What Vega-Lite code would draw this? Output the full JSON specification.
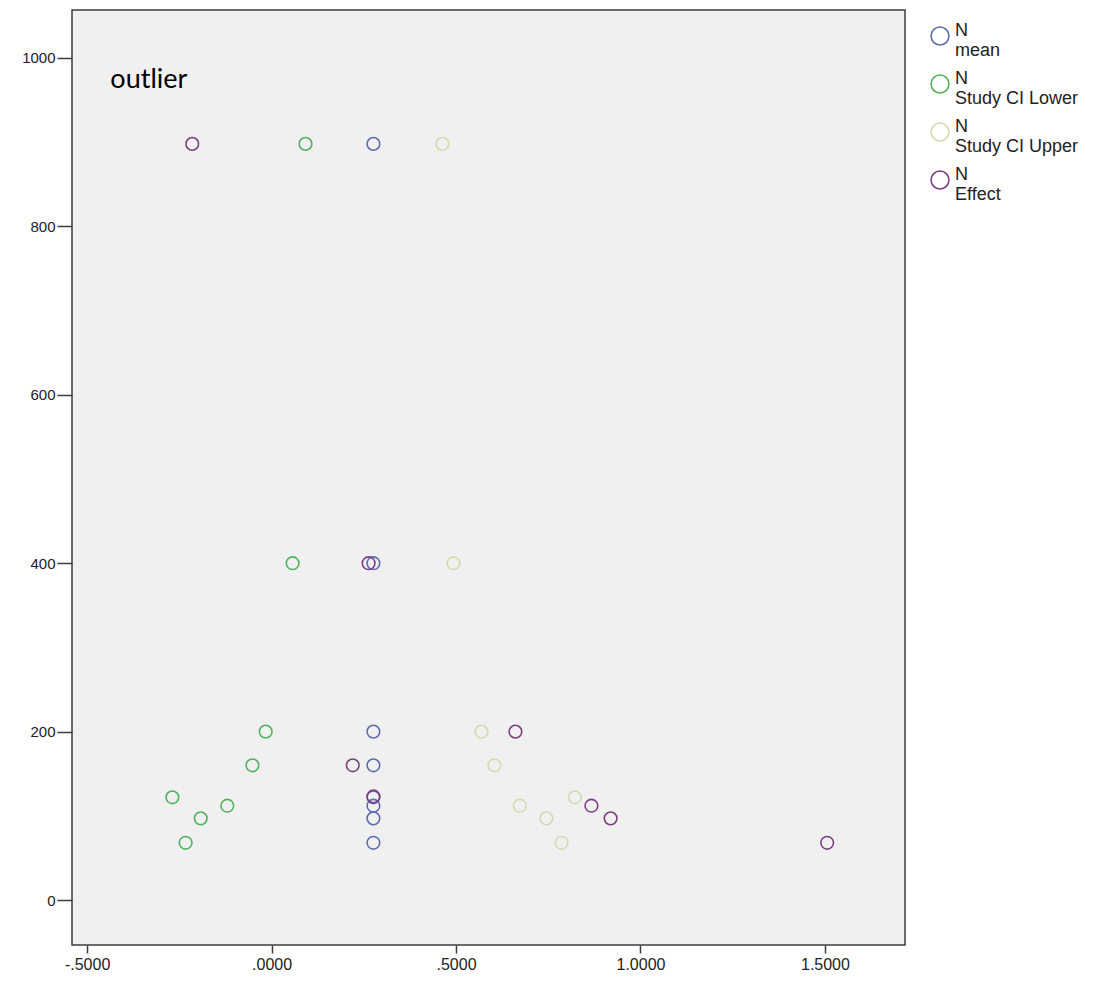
{
  "$schema": "https://vega.github.io/schema/vega-lite/v6.json",
  "width": 833,
  "height": 935,
  "autosize": {"type": "none"},
  "padding": {"left": 72, "top": 10, "right": 211, "bottom": 44},
  "background": "white",
  "config": {
    "view": {"fill": "#F0F0F0", "stroke": "#3c3c3c", "strokeWidth": 1.5},
    "font": "Liberation Sans"
  },
  "datasets": {
    "points": [
      {"N": 898, "value": 0.276, "series": "mean"},
      {"N": 400, "value": 0.276, "series": "mean"},
      {"N": 200, "value": 0.276, "series": "mean"},
      {"N": 160, "value": 0.276, "series": "mean"},
      {"N": 122, "value": 0.276, "series": "mean"},
      {"N": 112, "value": 0.276, "series": "mean"},
      {"N": 97, "value": 0.276, "series": "mean"},
      {"N": 68, "value": 0.276, "series": "mean"},
      {"N": 898, "value": 0.092, "series": "Study CI Lower"},
      {"N": 400, "value": 0.057, "series": "Study CI Lower"},
      {"N": 200, "value": -0.016, "series": "Study CI Lower"},
      {"N": 160, "value": -0.052, "series": "Study CI Lower"},
      {"N": 122, "value": -0.269, "series": "Study CI Lower"},
      {"N": 112, "value": -0.120, "series": "Study CI Lower"},
      {"N": 97, "value": -0.192, "series": "Study CI Lower"},
      {"N": 68, "value": -0.233, "series": "Study CI Lower"},
      {"N": 898, "value": 0.463, "series": "Study CI Upper"},
      {"N": 400, "value": 0.493, "series": "Study CI Upper"},
      {"N": 200, "value": 0.569, "series": "Study CI Upper"},
      {"N": 160, "value": 0.604, "series": "Study CI Upper"},
      {"N": 122, "value": 0.822, "series": "Study CI Upper"},
      {"N": 112, "value": 0.673, "series": "Study CI Upper"},
      {"N": 97, "value": 0.745, "series": "Study CI Upper"},
      {"N": 68, "value": 0.786, "series": "Study CI Upper"},
      {"N": 898, "value": -0.215, "series": "Effect"},
      {"N": 400, "value": 0.263, "series": "Effect"},
      {"N": 200, "value": 0.661, "series": "Effect"},
      {"N": 160, "value": 0.220, "series": "Effect"},
      {"N": 123, "value": 0.276, "series": "Effect"},
      {"N": 112, "value": 0.867, "series": "Effect"},
      {"N": 97, "value": 0.919, "series": "Effect"},
      {"N": 68, "value": 1.506, "series": "Effect"}
    ],
    "notes": [
      {"N": 974, "value": -0.437, "label": "outlier"}
    ]
  },
  "layer": [
    {
      "data": {"name": "points"},
      "mark": {"type": "point", "shape": "circle", "filled": false, "strokeWidth": 1.6, "size": 160, "opacity": 1},
      "encoding": {
        "x": {
          "field": "value", "type": "quantitative",
          "scale": {"domain": [-0.541, 1.717], "nice": false, "zero": false},
          "axis": {
            "title": null, "values": [-0.5, 0, 0.5, 1, 1.5],
            "labelExpr": "replace(replace(format(datum.value, '.4f'), '0.', '.'), '−', '-')",
            "domain": false, "grid": false, "tickColor": "#3c3c3c", "tickSize": 8, "tickWidth": 1.5,
            "labelFontSize": 16, "labelColor": "#222222", "labelPadding": 3, "labelFont": "Liberation Sans"
          }
        },
        "y": {
          "field": "N", "type": "quantitative",
          "scale": {"domain": [-53.4, 1057], "nice": false, "zero": false},
          "axis": {
            "title": null, "values": [0, 200, 400, 600, 800, 1000], "format": "d",
            "domain": false, "grid": false, "tickColor": "#3c3c3c", "tickSize": 15, "tickWidth": 1.5,
            "labelFontSize": 15, "labelColor": "#222222", "labelPadding": 2, "labelFont": "Liberation Sans"
          }
        },
        "color": {
          "field": "series", "type": "nominal",
          "scale": {
            "domain": ["mean", "Study CI Lower", "Study CI Upper", "Effect"],
            "range": ["#5d6db0", "#4fb35e", "#d9d8b0", "#7c3f82"]
          },
          "legend": {
            "orient": "none", "legendX": 858, "legendY": 16,
            "title": null,
            "labelExpr": "['N', ' ' + datum.label]",
            "labelFontSize": 18, "labelColor": "#222222", "labelFont": "Liberation Sans",
            "labelLineHeight": 18, "labelOffset": 5, "labelLimit": 250,
            "symbolType": "circle", "symbolSize": 320, "symbolStrokeWidth": 1.6, "symbolFillColor": "transparent",
            "rowPadding": 10, "labelBaseline": "alphabetic"
          }
        }
      }
    },
    {
      "data": {"name": "notes"},
      "mark": {"type": "text", "align": "left", "baseline": "middle", "fontSize": 27, "font": "Lato", "color": "#000000"},
      "encoding": {
        "x": {"field": "value", "type": "quantitative"},
        "y": {"field": "N", "type": "quantitative"},
        "text": {"field": "label"}
      }
    }
  ]
}
